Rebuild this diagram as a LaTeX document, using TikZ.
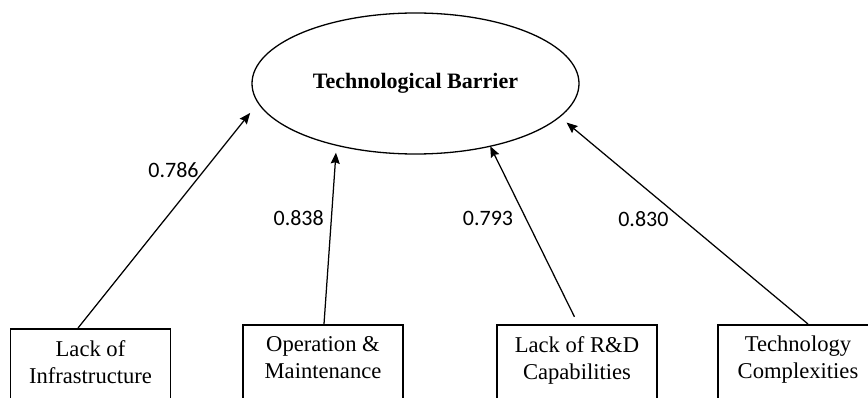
\documentclass[tikz,border=0pt]{standalone}
\usepackage{fontspec}
\setmainfont{Liberation Serif}
\newfontfamily\loadfont{Carlito}
\usetikzlibrary{arrows.meta,shapes.geometric}

\begin{document}
\begin{tikzpicture}[x=1pt,y=1pt,->,>={Stealth[length=11pt,width=9pt,inset=1.5pt]},
    line width=1.25pt,
    latent/.style={ellipse,draw,line width=1.3pt,minimum width=327pt,
      minimum height=141pt,inner sep=0pt,outer sep=0pt,
      font=\fontsize{22}{26}\selectfont\bfseries},
    indicator/.style={rectangle,draw,line width=1.5pt,anchor=north,
      minimum width=160pt,inner xsep=2pt,inner ysep=11.5pt,text depth=45pt,
      align=center,font=\fontsize{22.6}{27}\selectfont},
    weight/.style={font=\loadfont\fontsize{22}{26}\selectfont,inner sep=0pt}]
  \useasboundingbox (0,0) rectangle (868,397);
  \node[latent] (tb) at (415.5,313.5) {\raisebox{3pt}{Technological Barrier}};
  \node[indicator] (infra) at (90.5,69) {Lack of\\Infrastructure};
  \node[indicator] (opm) at (323,73) {Operation \&\\Maintenance};
  \node[indicator] (rnd) at (577,73) {Lack of R\&D\\Capabilities};
  \node[indicator] (tech) at (798,73) {Technology\\Complexities};
  \path ([xshift=-12.5pt]infra.north) edge[shorten >=13pt]
      node[weight,pos=.70,left=5pt] {0.786} (tb.187)
    ([xshift=1pt]opm.north) edge[shorten >=7.5pt]
      node[weight,pos=.593,left=7pt] {0.838} (tb.218)
    ([xshift=1pt]rnd.north) edge[shorten <=8pt]
      node[weight,pos=.596,left=12pt] {0.793} (tb.320.5)
    ([xshift=10pt]tech.north) edge[shorten >=9pt]
      node[weight,pos=.507,left=13pt] {0.830} (tb.347.9);
\end{tikzpicture}
\end{document}
